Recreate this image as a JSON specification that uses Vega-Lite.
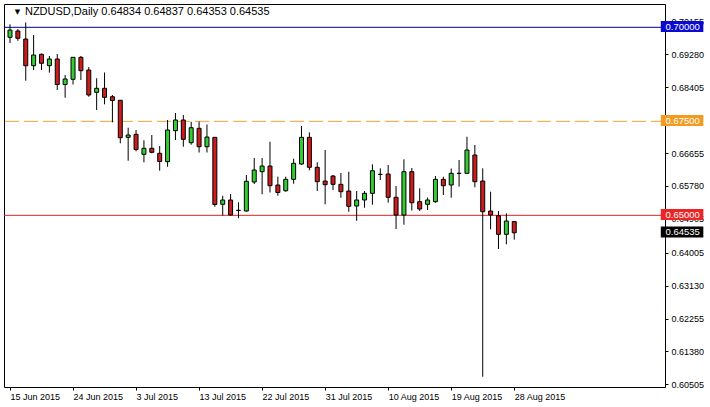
{
  "$schema": "https://vega.github.io/schema/vega-lite/v6.json",
  "width": 661,
  "height": 383,
  "autosize": "none",
  "padding": {"left": 4, "top": 4, "right": 45, "bottom": 20},
  "background": "white",
  "data": {"values": [{"row": 1}]},
  "config": {
    "view": {"stroke": "#000000", "strokeWidth": 1},
    "font": "Liberation Sans",
    "axis": {"labelFont": "Liberation Sans", "labelFontSize": 9, "labelColor": "#000000", "tickColor": "#000000", "tickSize": 3, "domain": false, "grid": false, "title": null, "labelOverlap": false, "labelFlush": false}
  },
  "datasets": {
    "candles": [
      {"i": 0, "date": "2015-06-15", "open": 0.69734, "high": 0.70080, "low": 0.69583, "close": 0.69928},
      {"i": 1, "date": "2015-06-16", "open": 0.69902, "high": 0.69955, "low": 0.69641, "close": 0.69708},
      {"i": 2, "date": "2015-06-17", "open": 0.69689, "high": 0.70128, "low": 0.68580, "close": 0.68979},
      {"i": 3, "date": "2015-06-18", "open": 0.68979, "high": 0.69795, "low": 0.68864, "close": 0.69263},
      {"i": 4, "date": "2015-06-19", "open": 0.69282, "high": 0.69303, "low": 0.68864, "close": 0.69043},
      {"i": 5, "date": "2015-06-21", "open": 0.68979, "high": 0.69237, "low": 0.68793, "close": 0.69157},
      {"i": 6, "date": "2015-06-22", "open": 0.69157, "high": 0.69290, "low": 0.68332, "close": 0.68479},
      {"i": 7, "date": "2015-06-23", "open": 0.68479, "high": 0.68731, "low": 0.68128, "close": 0.68625},
      {"i": 8, "date": "2015-06-24", "open": 0.68617, "high": 0.69210, "low": 0.68479, "close": 0.69202},
      {"i": 9, "date": "2015-06-25", "open": 0.69202, "high": 0.69237, "low": 0.68598, "close": 0.68846},
      {"i": 10, "date": "2015-06-26", "open": 0.68864, "high": 0.68944, "low": 0.68154, "close": 0.68200},
      {"i": 11, "date": "2015-06-28", "open": 0.68271, "high": 0.68644, "low": 0.67801, "close": 0.68378},
      {"i": 12, "date": "2015-06-29", "open": 0.68378, "high": 0.68798, "low": 0.67952, "close": 0.68138},
      {"i": 13, "date": "2015-06-30", "open": 0.68154, "high": 0.68200, "low": 0.67473, "close": 0.68053},
      {"i": 14, "date": "2015-07-01", "open": 0.68059, "high": 0.68066, "low": 0.66915, "close": 0.67064},
      {"i": 15, "date": "2015-07-02", "open": 0.67074, "high": 0.67330, "low": 0.66452, "close": 0.67136},
      {"i": 16, "date": "2015-07-03", "open": 0.67154, "high": 0.67269, "low": 0.66702, "close": 0.66750},
      {"i": 17, "date": "2015-07-05", "open": 0.66622, "high": 0.66995, "low": 0.66410, "close": 0.66782},
      {"i": 18, "date": "2015-07-06", "open": 0.66782, "high": 0.67136, "low": 0.66649, "close": 0.66676},
      {"i": 19, "date": "2015-07-07", "open": 0.66649, "high": 0.66843, "low": 0.66186, "close": 0.66431},
      {"i": 20, "date": "2015-07-08", "open": 0.66426, "high": 0.67535, "low": 0.66293, "close": 0.67269},
      {"i": 21, "date": "2015-07-09", "open": 0.67250, "high": 0.67721, "low": 0.67003, "close": 0.67535},
      {"i": 22, "date": "2015-07-10", "open": 0.67535, "high": 0.67668, "low": 0.66824, "close": 0.67021},
      {"i": 23, "date": "2015-07-12", "open": 0.66931, "high": 0.67489, "low": 0.66878, "close": 0.67330},
      {"i": 24, "date": "2015-07-13", "open": 0.67314, "high": 0.67495, "low": 0.66670, "close": 0.66824},
      {"i": 25, "date": "2015-07-14", "open": 0.66824, "high": 0.67415, "low": 0.66670, "close": 0.67082},
      {"i": 26, "date": "2015-07-15", "open": 0.67074, "high": 0.67082, "low": 0.65229, "close": 0.65287},
      {"i": 27, "date": "2015-07-16", "open": 0.65293, "high": 0.65521, "low": 0.64995, "close": 0.65407},
      {"i": 28, "date": "2015-07-17", "open": 0.65407, "high": 0.65567, "low": 0.65000, "close": 0.65008},
      {"i": 29, "date": "2015-07-19", "open": 0.65133, "high": 0.65346, "low": 0.64920, "close": 0.65130},
      {"i": 30, "date": "2015-07-20", "open": 0.65114, "high": 0.66072, "low": 0.65096, "close": 0.65904},
      {"i": 31, "date": "2015-07-21", "open": 0.65886, "high": 0.66524, "low": 0.65832, "close": 0.66205},
      {"i": 32, "date": "2015-07-22", "open": 0.66160, "high": 0.66524, "low": 0.65559, "close": 0.66311},
      {"i": 33, "date": "2015-07-23", "open": 0.66311, "high": 0.66957, "low": 0.65606, "close": 0.65787},
      {"i": 34, "date": "2015-07-24", "open": 0.65806, "high": 0.66027, "low": 0.65521, "close": 0.65606},
      {"i": 35, "date": "2015-07-26", "open": 0.65654, "high": 0.66027, "low": 0.65628, "close": 0.65957},
      {"i": 36, "date": "2015-07-27", "open": 0.65957, "high": 0.66505, "low": 0.65840, "close": 0.66383},
      {"i": 37, "date": "2015-07-28", "open": 0.66364, "high": 0.67375, "low": 0.66338, "close": 0.67074},
      {"i": 38, "date": "2015-07-29", "open": 0.67074, "high": 0.67207, "low": 0.66197, "close": 0.66277},
      {"i": 39, "date": "2015-07-30", "open": 0.66277, "high": 0.66410, "low": 0.65646, "close": 0.65894},
      {"i": 40, "date": "2015-07-31", "open": 0.65912, "high": 0.66737, "low": 0.65293, "close": 0.65814},
      {"i": 41, "date": "2015-08-02", "open": 0.66045, "high": 0.66072, "low": 0.65673, "close": 0.65824},
      {"i": 42, "date": "2015-08-03", "open": 0.65824, "high": 0.66125, "low": 0.65468, "close": 0.65628},
      {"i": 43, "date": "2015-08-04", "open": 0.65646, "high": 0.66160, "low": 0.65096, "close": 0.65239},
      {"i": 44, "date": "2015-08-05", "open": 0.65247, "high": 0.65646, "low": 0.64854, "close": 0.65407},
      {"i": 45, "date": "2015-08-06", "open": 0.65407, "high": 0.65646, "low": 0.65202, "close": 0.65585},
      {"i": 46, "date": "2015-08-07", "open": 0.65585, "high": 0.66356, "low": 0.65282, "close": 0.66186},
      {"i": 47, "date": "2015-08-09", "open": 0.66090, "high": 0.66250, "low": 0.65939, "close": 0.66088},
      {"i": 48, "date": "2015-08-10", "open": 0.66098, "high": 0.66338, "low": 0.65335, "close": 0.65479},
      {"i": 49, "date": "2015-08-11", "open": 0.65479, "high": 0.65779, "low": 0.64636, "close": 0.65008},
      {"i": 50, "date": "2015-08-12", "open": 0.65008, "high": 0.66489, "low": 0.64750, "close": 0.66160},
      {"i": 51, "date": "2015-08-13", "open": 0.66160, "high": 0.66258, "low": 0.65128, "close": 0.65335},
      {"i": 52, "date": "2015-08-14", "open": 0.65362, "high": 0.65718, "low": 0.65114, "close": 0.65168},
      {"i": 53, "date": "2015-08-16", "open": 0.65293, "high": 0.65473, "low": 0.65141, "close": 0.65407},
      {"i": 54, "date": "2015-08-17", "open": 0.65362, "high": 0.66045, "low": 0.65335, "close": 0.65957},
      {"i": 55, "date": "2015-08-18", "open": 0.65957, "high": 0.66027, "low": 0.65540, "close": 0.65787},
      {"i": 56, "date": "2015-08-19", "open": 0.65806, "high": 0.66245, "low": 0.65468, "close": 0.66117},
      {"i": 57, "date": "2015-08-20", "open": 0.66117, "high": 0.66471, "low": 0.65761, "close": 0.66115},
      {"i": 58, "date": "2015-08-21", "open": 0.66117, "high": 0.67090, "low": 0.66112, "close": 0.66737},
      {"i": 59, "date": "2015-08-23", "open": 0.66604, "high": 0.66870, "low": 0.65745, "close": 0.65894},
      {"i": 60, "date": "2015-08-24", "open": 0.65912, "high": 0.66250, "low": 0.60707, "close": 0.65096},
      {"i": 61, "date": "2015-08-25", "open": 0.65114, "high": 0.65628, "low": 0.64628, "close": 0.65008},
      {"i": 62, "date": "2015-08-26", "open": 0.64989, "high": 0.65114, "low": 0.64104, "close": 0.64495},
      {"i": 63, "date": "2015-08-27", "open": 0.64495, "high": 0.65053, "low": 0.64229, "close": 0.64848},
      {"i": 64, "date": "2015-08-28", "open": 0.64834, "high": 0.64837, "low": 0.64353, "close": 0.64535}
    ]
  },
  "layer": [
    {
      "mark": {"type": "rule", "color": "#000080", "strokeWidth": 1},
      "encoding": {"y": {"datum": 0.70, "type": "quantitative", "scale": {"domain": [0.60434, 0.7062], "nice": false, "zero": false},
        "axis": {"orient": "right", "values": [0.60505, 0.6138, 0.62255, 0.6313, 0.64005, 0.64905, 0.6578, 0.66655, 0.68405, 0.6928, 0.70155], "tickCount": 30, "format": ".5f", "labelPadding": 3, "labelOverlap": false, "labelBound": false}}}
    },
    {
      "mark": {"type": "rule", "color": "#eca235", "strokeWidth": 1, "strokeDash": [14, 5]},
      "encoding": {"y": {"datum": 0.675, "type": "quantitative"}}
    },
    {
      "mark": {"type": "rule", "color": "#d42525", "strokeWidth": 1},
      "encoding": {"y": {"datum": 0.65, "type": "quantitative"}}
    },
    {
      "data": {"name": "candles"},
      "mark": {"type": "rule", "color": "#000000", "strokeWidth": 1},
      "encoding": {
        "x": {"field": "i", "type": "quantitative", "scale": {"domain": [-0.125, 82.5], "nice": false, "zero": false},
          "axis": {"orient": "bottom", "values": [0, 8, 16, 24, 32, 40, 48, 56, 64], "tickCount": 30, "labelAlign": "left", "labelBaseline": "top", "labelPadding": 2, "labelOverlap": false,
            "labelExpr": "['15 Jun 2015','24 Jun 2015','3 Jul 2015','13 Jul 2015','22 Jul 2015','31 Jul 2015','10 Aug 2015','19 Aug 2015','28 Aug 2015'][round(datum.value/8)]"}},
        "y": {"field": "low", "type": "quantitative",
          "axis": {"orient": "right", "values": [0.60505, 0.6138, 0.62255, 0.6313, 0.64005, 0.64905, 0.6578, 0.66655, 0.68405, 0.6928, 0.70155], "tickCount": 30, "format": ".5f", "labelPadding": 3, "labelOverlap": false, "labelBound": false}},
        "y2": {"field": "high"}
      }
    },
    {
      "data": {"name": "candles"},
      "mark": {"type": "bar", "size": 4, "stroke": "#000000", "strokeWidth": 1},
      "encoding": {
        "x": {"field": "i", "type": "quantitative"},
        "y": {"field": "open", "type": "quantitative"},
        "y2": {"field": "close"},
        "fill": {"condition": {"test": "datum.close > datum.open", "value": "#32cd32"}, "value": "#cc1c1c"}
      }
    },
    {
      "mark": {"type": "rule", "color": "#0a0ad2", "strokeWidth": 11, "strokeCap": "butt"},
      "encoding": {"x": {"datum": 82.6, "type": "quantitative"}, "x2": {"datum": 88.0}, "y": {"datum": 0.7002, "type": "quantitative"}}
    },
    {
      "mark": {"type": "rule", "color": "#f39a20", "strokeWidth": 11, "strokeCap": "butt"},
      "encoding": {"x": {"datum": 82.6, "type": "quantitative"}, "x2": {"datum": 88.0}, "y": {"datum": 0.6752, "type": "quantitative"}}
    },
    {
      "mark": {"type": "rule", "color": "#ec2424", "strokeWidth": 11, "strokeCap": "butt"},
      "encoding": {"x": {"datum": 82.6, "type": "quantitative"}, "x2": {"datum": 88.0}, "y": {"datum": 0.6502, "type": "quantitative"}}
    },
    {
      "mark": {"type": "rule", "color": "#000000", "strokeWidth": 11, "strokeCap": "butt"},
      "encoding": {"x": {"datum": 82.6, "type": "quantitative"}, "x2": {"datum": 88.0}, "y": {"datum": 0.64555, "type": "quantitative"}}
    },
    {
      "mark": {"type": "text", "color": "#ffffff", "fontSize": 9.5, "align": "left", "baseline": "middle", "text": "0.70000"},
      "encoding": {"x": {"datum": 83.2, "type": "quantitative"}, "y": {"datum": 0.7002, "type": "quantitative"}}
    },
    {
      "mark": {"type": "text", "color": "#ffffff", "fontSize": 9.5, "align": "left", "baseline": "middle", "text": "0.67500"},
      "encoding": {"x": {"datum": 83.2, "type": "quantitative"}, "y": {"datum": 0.6752, "type": "quantitative"}}
    },
    {
      "mark": {"type": "text", "color": "#ffffff", "fontSize": 9.5, "align": "left", "baseline": "middle", "text": "0.65000"},
      "encoding": {"x": {"datum": 83.2, "type": "quantitative"}, "y": {"datum": 0.6502, "type": "quantitative"}}
    },
    {
      "mark": {"type": "text", "color": "#ffffff", "fontSize": 9.5, "align": "left", "baseline": "middle", "text": "0.64535"},
      "encoding": {"x": {"datum": 83.2, "type": "quantitative"}, "y": {"datum": 0.64555, "type": "quantitative"}}
    },
    {
      "mark": {"type": "text", "color": "#000000", "fontSize": 7, "font": "DejaVu Sans", "align": "center", "baseline": "middle", "text": "▼"},
      "encoding": {"x": {"datum": 0.95, "type": "quantitative"}, "y": {"datum": 0.70394, "type": "quantitative"}}
    },
    {
      "mark": {"type": "text", "color": "#000000", "fontSize": 11, "align": "left", "baseline": "middle", "text": "NZDUSD,Daily  0.64834 0.64837 0.64353 0.64535"},
      "encoding": {"x": {"datum": 1.9, "type": "quantitative"}, "y": {"datum": 0.70394, "type": "quantitative"}}
    }
  ]
}
